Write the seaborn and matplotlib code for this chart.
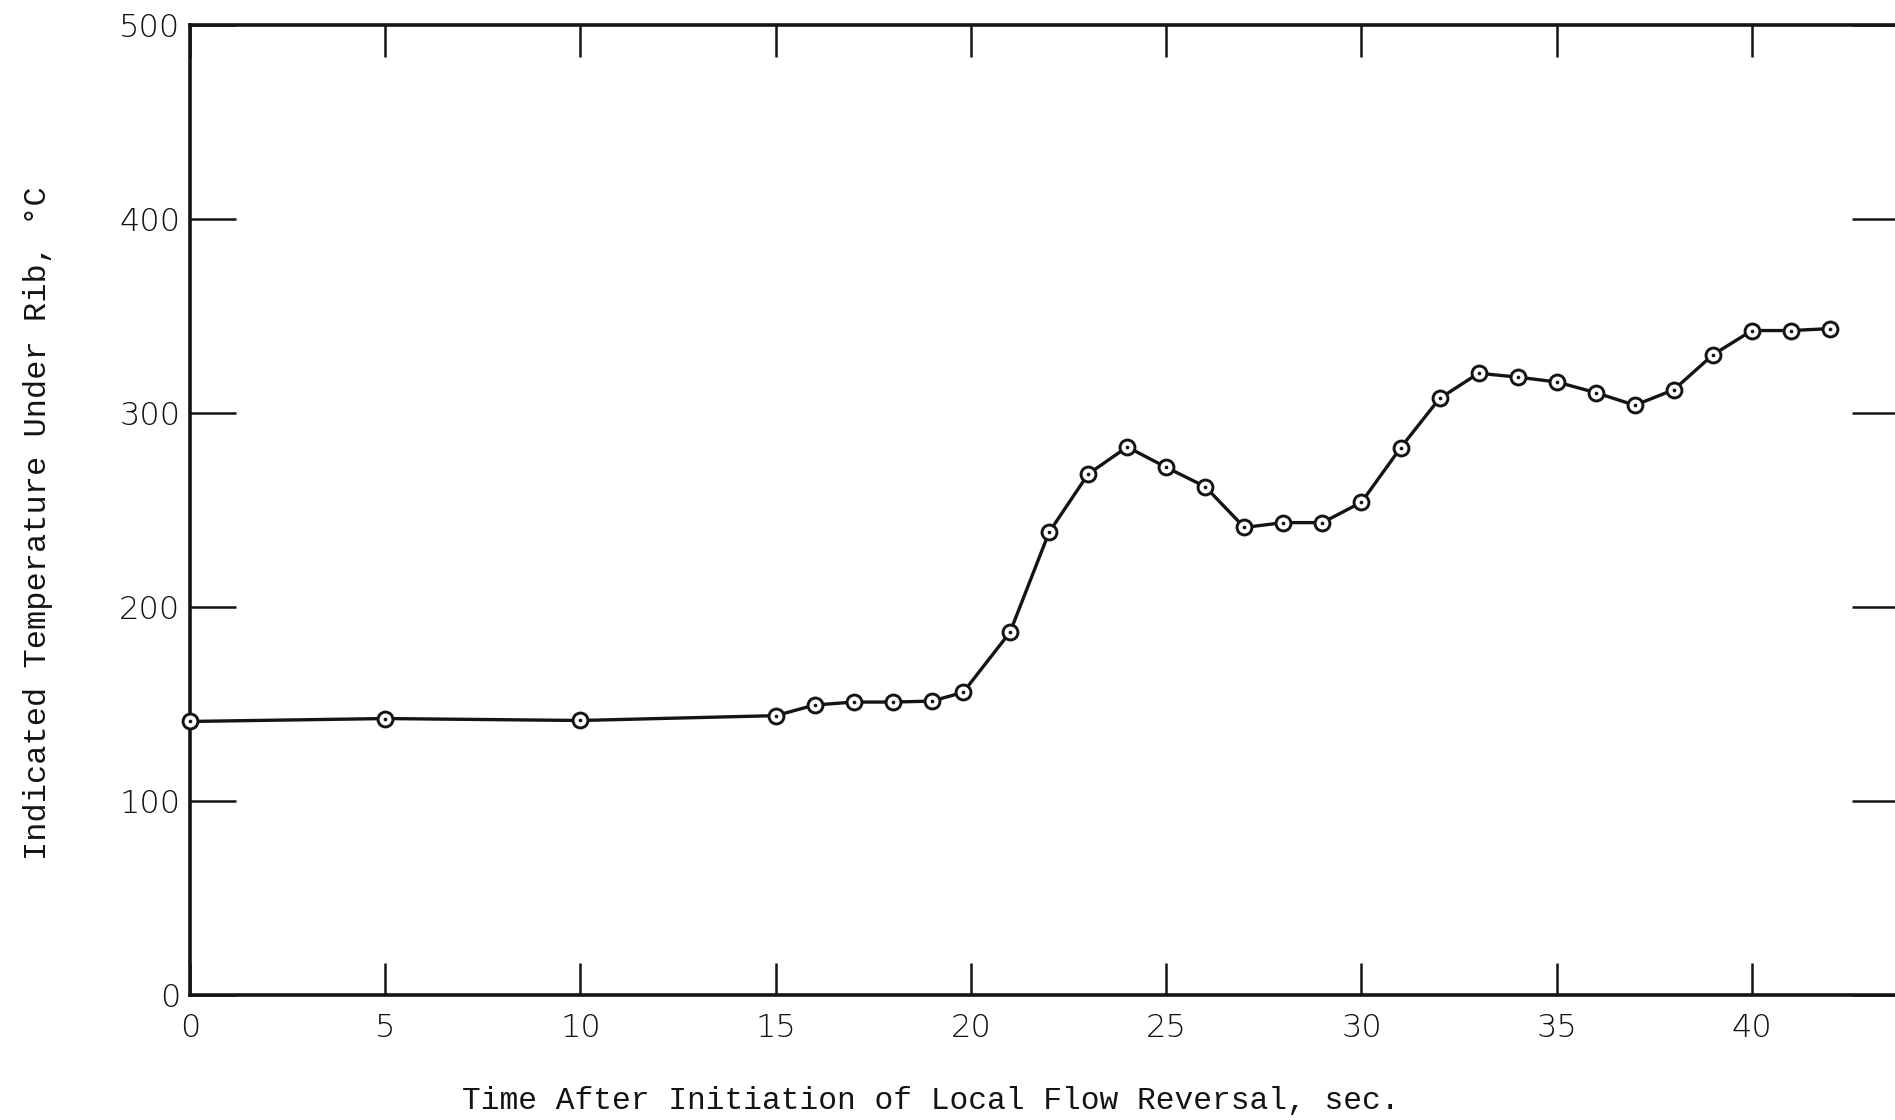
import matplotlib
matplotlib.use("Agg")
import matplotlib.pyplot as plt
import seaborn as sns
import pandas as pd

# ---- data ----
time_s = [0, 5, 10, 15, 16, 17, 18, 19, 19.8, 21, 22, 23, 24, 25, 26, 27, 28, 29,
          30, 31, 32, 33, 34, 35, 36, 37, 38, 39, 40, 41, 42]
temp_c = [141, 142.5, 141.5, 144, 149.5, 151, 151, 151.5, 156, 187, 238.5, 268.5,
          282.5, 272, 262, 241, 243.5, 243.5, 254, 282, 307.5, 320.5, 318.5, 316,
          310.5, 304, 312, 330, 342.5, 342.5, 343.5]
x_ticks = [0, 5, 10, 15, 20, 25, 30, 35, 40]
y_ticks = [0, 100, 200, 300, 400, 500]
x_label = "Time After Initiation of Local Flow Reversal, sec."
y_label = "Indicated Temperature Under Rib, °C"

df = pd.DataFrame({"t": time_s, "T": temp_c})

sns.set_style("ticks")
plt.rcParams["font.family"] = ["DejaVu Sans"]

INK = "#141414"
fig = plt.figure(figsize=(18.95, 11.2), dpi=100)
ax = fig.add_axes([190 / 1895, 1 - 995 / 1120, (1898 - 190) / 1895, 970 / 1120])

sns.lineplot(data=df, x="t", y="T", ax=ax, color=INK, lw=2.4, zorder=2)
sns.scatterplot(data=df, x="t", y="T", ax=ax, marker="o", s=115,
                facecolor="white", edgecolor=INK, linewidth=2.1,
                zorder=3, clip_on=False)
sns.scatterplot(data=df, x="t", y="T", ax=ax, marker="o", s=7,
                color=INK, edgecolor=INK, linewidth=0, zorder=4, clip_on=False)

ax.set_xlim(0, 43.74)
ax.set_ylim(0, 500)
ax.set_xticks(x_ticks)
ax.set_yticks(y_ticks)
ax.set_xticklabels([str(v) for v in x_ticks])
ax.set_yticklabels([str(v) for v in y_ticks])

for sp in ax.spines.values():
    sp.set_visible(True)
    sp.set_linewidth(2.6)
    sp.set_color(INK)

ax.tick_params(axis="x", which="major", direction="in", length=23, width=1.8,
               color=INK, top=True, bottom=True, labelsize=23, pad=13,
               labelcolor=INK)
ax.tick_params(axis="y", which="major", direction="in", length=33, width=1.8,
               color=INK, left=True, right=True, labelsize=23, pad=7,
               labelcolor=INK)
for lab in ax.get_xticklabels() + ax.get_yticklabels():
    lab.set_fontweight("light")

ax.set_xlabel(x_label, fontsize=22.5, family=["Liberation Mono", "DejaVu Sans"],
              color=INK)
ax.xaxis.set_label_coords((931 - 190) / 1708, (995 - 1101) / 970)
ax.xaxis.label.set_va("center")
ax.set_ylabel(y_label, fontsize=23, family=["Liberation Mono", "DejaVu Sans"],
              color=INK)
ax.yaxis.set_label_coords((38 - 190) / 1708, (995 - 523) / 970)
ax.yaxis.label.set_va("center")

fig.savefig("out.png", dpi=100, facecolor="white")
